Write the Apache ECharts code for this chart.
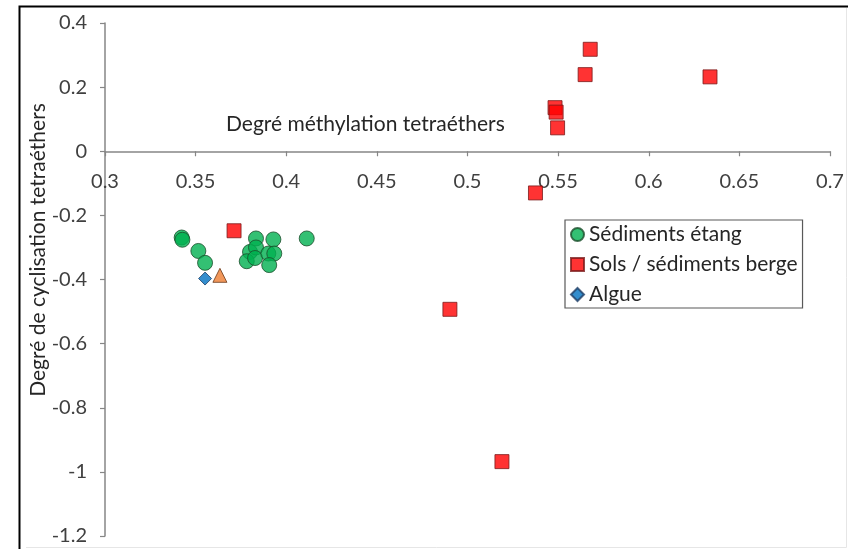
<!DOCTYPE html>
<html>
<head>
<meta charset="utf-8">
<style>
  html, body { margin: 0; padding: 0; background: #ffffff; }
  #chart { width: 848px; height: 549px; }
</style>
<script src="https://cdn.jsdelivr.net/npm/echarts@6/dist/echarts.min.js"></script>
</head>
<body>
<div id="chart"></div>
<script>
// Degree of methylation (x) vs degree of cyclisation (y) of tetraethers
const xTitle = 'Degré méthylation tetraéthers';
const yTitle = 'Degré de cyclisation tetraéthers';

const seriesNames = ['Sédiments étang', 'Sols / sédiments berge', 'Algue'];

// [methylation, cyclisation]
const pondSediments = [
  [0.3423, -0.269], [0.3427, -0.276], [0.3515, -0.311], [0.3552, -0.348],
  [0.3833, -0.272], [0.3929, -0.275], [0.4113, -0.272], [0.3800, -0.314],
  [0.3833, -0.300], [0.3782, -0.343], [0.3828, -0.333], [0.3901, -0.319],
  [0.3934, -0.319], [0.3906, -0.355]
];
const bankSoils = [
  [0.5677, 0.318], [0.5649, 0.239], [0.5483, 0.136], [0.5489, 0.122],
  [0.5497, 0.073], [0.5375, -0.130], [0.6338, 0.232], [0.4903, -0.493],
  [0.5190, -0.968], [0.3712, -0.248]
];
const algae = [[0.3552, -0.397]];
const otherSample = [[0.3634, -0.387]];

const xMin = 0.3, xMax = 0.7, xStep = 0.05;
const yMin = -1.2, yMax = 0.4, yStep = 0.2;

const font = 'Lato, "Open Sans", "DejaVu Sans", sans-serif';
const textColor = '#404040';
const titleColor = '#262626';
const axisColor = '#868686';

const gridTop = 23, gridBottom = 13, chartHeight = 549;

const chart = echarts.init(document.getElementById('chart'), null, { renderer: 'canvas' });

// the horizontal axis sits on y = 0: shift it up from the bottom of the plot
const plotH = chartHeight - gridTop - gridBottom;
const zeroOffset = -plotH * (0 - yMin) / (yMax - yMin);

chart.setOption({
  backgroundColor: '#ffffff',
  animation: false,
  textStyle: { fontFamily: font },
  title: {
    text: xTitle,
    left: 226,
    top: 114,
    padding: 0,
    textStyle: { fontFamily: font, fontSize: 21, fontWeight: 'normal', color: titleColor }
  },
  grid: {
    left: 105, right: 18, top: gridTop, bottom: gridBottom,
    containLabel: false,
    outerBoundsMode: 'none'
  },
  legend: {
    orient: 'vertical',
    left: 565,
    top: 220,
    padding: [4, 5, 3, 5],
    itemGap: 9,
    itemWidth: 13,
    itemHeight: 13,
    borderColor: '#595959',
    borderWidth: 1.2,
    backgroundColor: '#ffffff',
    textStyle: { fontFamily: font, fontSize: 21, color: titleColor },
    data: [
      { name: seriesNames[0], icon: 'circle' },
      { name: seriesNames[1], icon: 'rect' },
      { name: seriesNames[2], icon: 'diamond' }
    ]
  },
  xAxis: {
    type: 'value',
    min: xMin, max: xMax, interval: xStep,
    offset: zeroOffset,
    axisLine: { show: true, onZero: false, lineStyle: { color: axisColor, width: 1.5 } },
    axisTick: { show: true, length: 5, lineStyle: { color: axisColor, width: 1.2 } },
    axisLabel: {
      show: true, margin: 20, fontSize: 20, color: textColor, fontFamily: font,
      showMinLabel: true, showMaxLabel: true, hideOverlap: false
    },
    splitLine: { show: false }
  },
  yAxis: {
    type: 'value',
    min: yMin, max: yMax, interval: yStep,
    axisLine: { show: true, lineStyle: { color: axisColor, width: 1.5 } },
    axisTick: { show: true, length: 5, lineStyle: { color: axisColor, width: 1.2 } },
    axisLabel: { margin: 18, fontSize: 20, color: textColor, fontFamily: font },
    splitLine: { show: false }
  },
  series: [
    {
      name: seriesNames[0],
      type: 'scatter',
      symbol: 'circle',
      symbolSize: 15,
      itemStyle: { color: '#00B050', borderColor: '#1a4d2a', borderWidth: 1 },
      data: pondSediments
    },
    {
      name: seriesNames[1],
      type: 'scatter',
      symbol: 'rect',
      symbolSize: 14,
      itemStyle: { color: '#FF0000', borderColor: '#7a1a1a', borderWidth: 1 },
      data: bankSoils
    },
    {
      name: seriesNames[2],
      type: 'scatter',
      symbol: 'diamond',
      symbolSize: 13,
      itemStyle: { color: '#0070C0', borderColor: '#1f3f66', borderWidth: 1 },
      data: algae
    },
    {
      name: 'autre',
      type: 'scatter',
      symbol: 'triangle',
      symbolSize: 14,
      itemStyle: { color: '#ED7D31', borderColor: '#6b3a1a', borderWidth: 1 },
      data: otherSample
    }
  ],
  graphic: [
    {
      // vertical axis title, set slightly above the plot's centre
      type: 'text',
      silent: true,
      x: 38,
      y: 250,
      rotation: Math.PI / 2,
      style: {
        text: yTitle,
        font: '21px ' + font,
        fill: titleColor,
        align: 'center',
        verticalAlign: 'middle'
      }
    },
    {
      type: 'polyline',
      silent: true,
      shape: { points: [[19.5, 549], [19.5, 6.5], [848, 6.5]] },
      style: { stroke: '#000000', lineWidth: 2, fill: null }
    },
    {
      type: 'polyline',
      silent: true,
      shape: { points: [[26, 547.5], [846.5, 547.5], [846.5, 8]] },
      style: { stroke: '#e6e6e6', lineWidth: 1, fill: null }
    }
  ]
});
</script>
</body>
</html>
